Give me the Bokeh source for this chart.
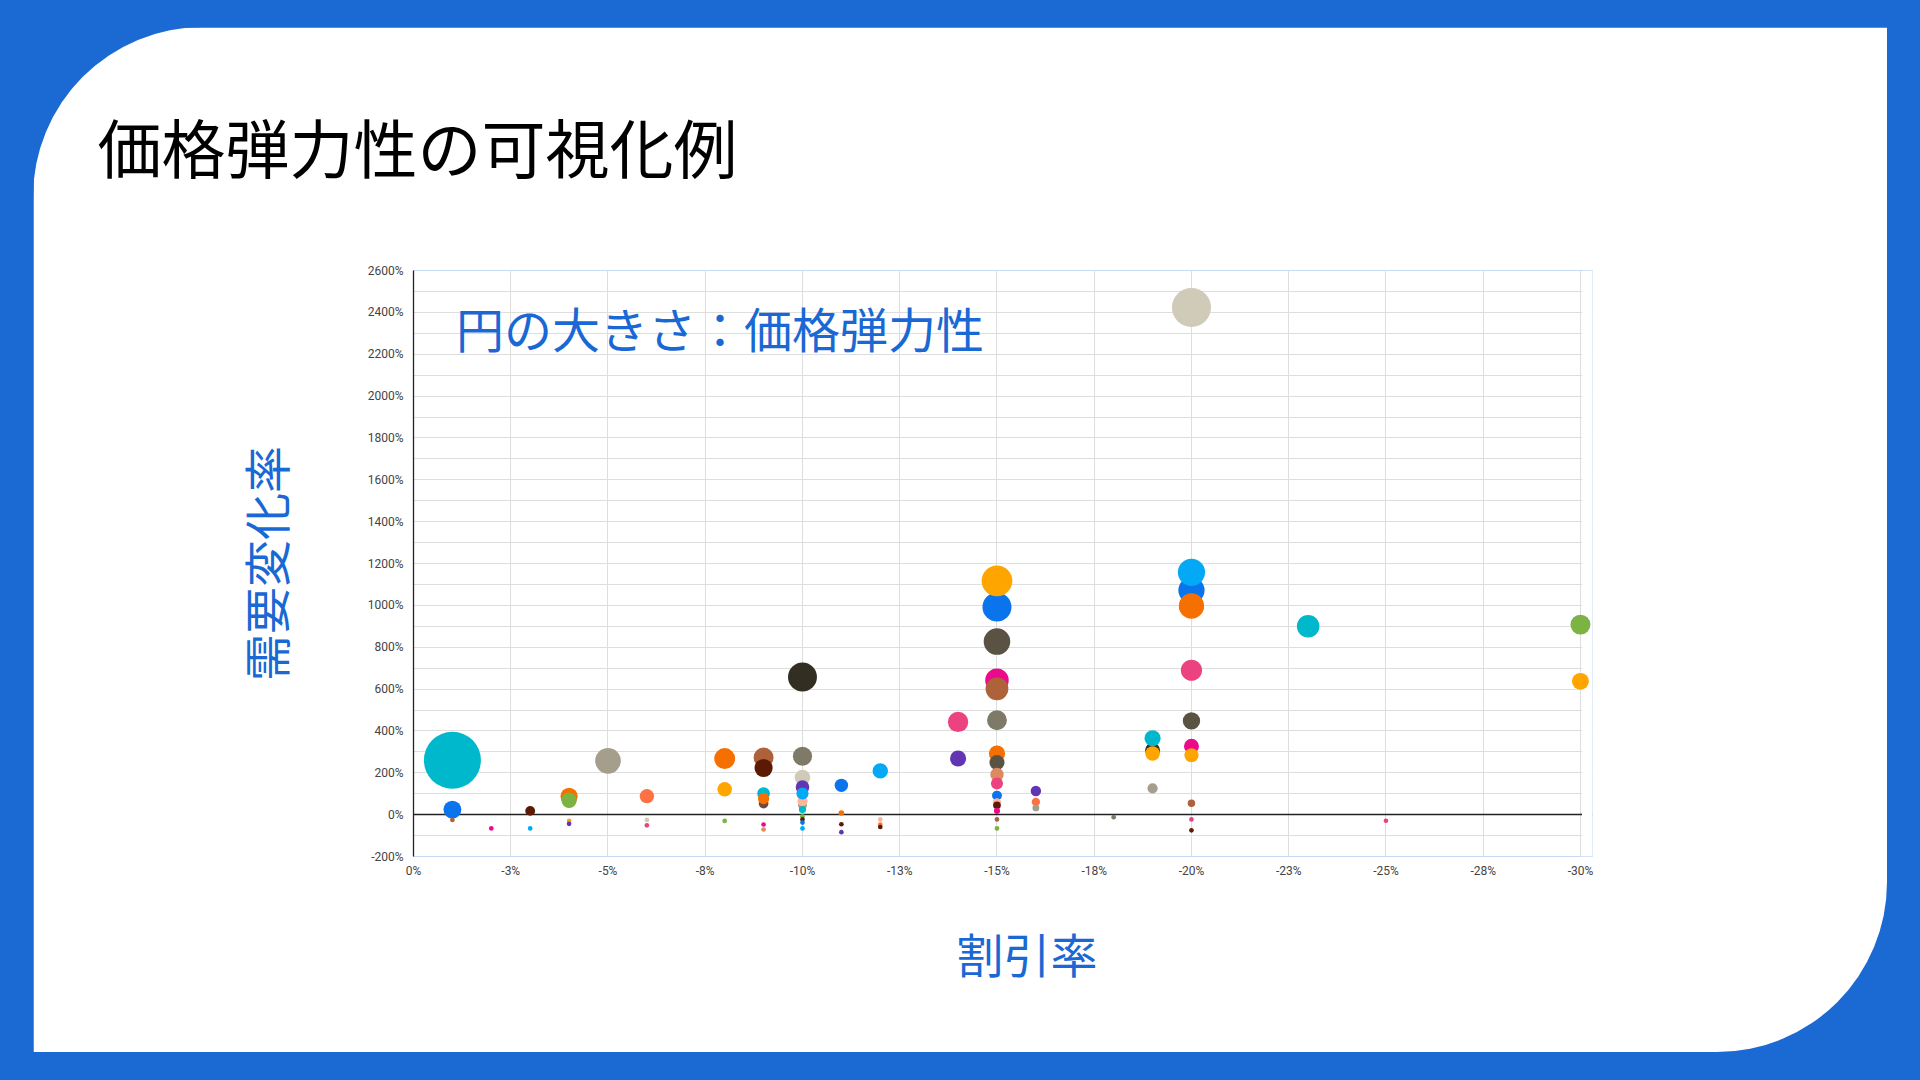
import math
from bokeh.plotting import figure
from bokeh.models import (ColumnDataSource, FixedTicker, PrintfTickFormatter, Label, Grid, Title,
                          Range1d, GlobalInlineStyleSheet, BoxAnnotation)
from bokeh.embed import file_html
from bokeh.resources import INLINE

# ---------------- data ----------------
CYAN = "#00B8CC"; BLUE = "#0A74EC"; LBLUE = "#03A9F4"; ORANGE = "#F57000"; AMBER = "#FFA500"
BROWN = "#AD6239"; DBROWN = "#5C1A04"; PINK = "#EC4280"; MAGENTA = "#EC0A8C"; PURPLE = "#6236B2"
GREEN = "#7CB342"; TAUPE = "#A59E8C"; BEIGE = "#D0CAB8"; GRAY = "#7F7A68"; DGRAY = "#5A5344"
DARK = "#332E22"; CORAL = "#FF7043"; SALMON = "#DE8A60"; PEACH = "#FFB494"; MUD = "#6E4B3A"

discount = [-1, -1, -1, -2, -3, -3, -4, -4, -4, -4, -5, -6, -6, -6, -8, -8, -8,
            -9, -9, -9, -9, -9, -9, -9,
            -10, -10, -10, -10, -10, -10, -10, -10, -10, -10, -10, -10,
            -11, -11, -11, -11, -12, -12, -12, -12, -14, -14,
            -15, -15, -15, -15, -15, -15, -15, -15, -15, -15, -15, -15, -15, -15, -15, -15,
            -16, -16, -16, -18, -19, -19, -19, -19,
            -20, -20, -20, -20, -20, -20, -20, -20, -20, -20, -20,
            -23, -25, -30, -30]
demand_change = [260, 24, -25, -66, 18, -66, 88, 69, -30, -44, 257, 88, -25, -51, 268, 121, -30,
                 273, 223, 101, 53, 77, -47, -71,
                 658, 279, 177, 132, 45, 64, 101, 24, -8, -23, -38, -66,
                 140, 8, -46, -84, 209, -23, -47, -59, 443, 268,
                 992, 1117, 827, 642, 601, 451, 292, 249, 192, 149, 91, 58, 45, 18, -23, -66,
                 113, 61, 32, -12, 308, 365, 292, 126,
                 2423, 1072, 1158, 997, 690, 448, 327, 284, 54, -23, -75,
                 900, -29, 908, 637]
colors = [CYAN, BLUE, BROWN, MAGENTA, DBROWN, LBLUE, ORANGE, GREEN, AMBER, PURPLE, TAUPE, CORAL, BEIGE, PINK, ORANGE, AMBER, GREEN,
          BROWN, DBROWN, CYAN, MUD, ORANGE, MAGENTA, SALMON,
          DARK, GRAY, BEIGE, PURPLE, TAUPE, PEACH, LBLUE, CYAN, GREEN, DBROWN, BLUE, LBLUE,
          BLUE, ORANGE, DBROWN, PURPLE, LBLUE, PEACH, CORAL, DBROWN, PINK, PURPLE,
          BLUE, AMBER, DGRAY, MAGENTA, BROWN, GRAY, ORANGE, DGRAY, SALMON, PINK, BLUE, PEACH, DBROWN, MAGENTA, BROWN, GREEN,
          PURPLE, CORAL, TAUPE, GRAY, DARK, CYAN, AMBER, TAUPE,
          BEIGE, BLUE, LBLUE, ORANGE, PINK, DGRAY, MAGENTA, AMBER, BROWN, PINK, DBROWN,
          CYAN, PINK, GREEN, AMBER]

x_ticks = [0, -2.5, -5, -7.5, -10, -12.5, -15, -17.5, -20, -22.5, -25, -27.5, -30]
x_tick_labels = ["0%", "-3%", "-5%", "-8%", "-10%", "-13%", "-15%", "-18%", "-20%",
                 "-23%", "-25%", "-28%", "-30%"]
y_ticks = list(range(-200, 2601, 200))
y_minor_ticks = list(range(-200, 2601, 100))

title_text = "価格弾力性の可視化例"
x_title = "割引率"
y_title = "需要変化率"
note_text = "円の大きさ：価格弾力性"

# ------------- bubble size scale (area proportional to elasticity) -------------
elasticity = [d / abs(x) for x, d in zip(discount, demand_change)]
e_max = max(elasticity)
S_MIN, S_MAX = 4.7, 57.0
sizes = [math.sqrt(S_MIN ** 2 + (S_MAX ** 2 - S_MIN ** 2) * max(e, 0) / e_max) for e in elasticity]

src = ColumnDataSource(dict(x=discount, y=demand_change, color=colors, size=sizes, e=elasticity))

BG_BLUE = "#1B6AD4"
TXT_BLUE = "#1A68D3"
JP = "Noto Sans CJK JP"
X_MIN, X_MAX = x_ticks[0], x_ticks[-1]
X_PAD = 0.31   # extra room right of -30% so edge bubbles are not clipped

p = figure(width=1854, height=1025, output_backend="svg", toolbar_location=None,
           x_range=Range1d(X_MIN, X_MAX - X_PAD), y_range=Range1d(y_ticks[0], y_ticks[-1]),
           min_border_left=380, min_border_right=295, min_border_top=243, min_border_bottom=196,
           background_fill_color="white", border_fill_color="white", outline_line_color=None,
           margin=(27, 0, 0, 33),
           styles={"border-radius": "170px 0px 170px 0px", "overflow": "hidden"},
           stylesheets=[GlobalInlineStyleSheet(css="html, body { background-color: %s; }" % BG_BLUE)])

# title (with an empty spacer panel between it and the plot frame)
p.add_layout(Title(text=" ", text_font=JP, text_font_size="20px", standoff=49), "above")
p.title.text = title_text
p.title.text_font = JP
p.title.text_font_size = "64px"
p.title.text_font_style = "normal"
p.title.text_color = "#000000"
p.title.align = "left"
p.title.offset = -316
p.title.standoff = 0

# axes
p.xaxis.ticker = FixedTicker(ticks=x_ticks)
p.xaxis.major_label_overrides = {float(t): lab for t, lab in zip(x_ticks, x_tick_labels)}
p.yaxis.ticker = FixedTicker(ticks=y_ticks, minor_ticks=y_minor_ticks)
p.yaxis.formatter = PrintfTickFormatter(format="%d%%")
for ax in (p.xaxis[0], p.yaxis[0]):
    ax.major_label_text_font = "Roboto"
    ax.major_label_text_font_size = "12px"
    ax.major_label_text_color = "#444444"
    ax.major_tick_line_color = None
    ax.minor_tick_line_color = None
    ax.major_tick_out = 0
    ax.major_tick_in = 0
    ax.minor_tick_out = 0
    ax.axis_label_text_font = JP
    ax.axis_label_text_font_size = "47px"
    ax.axis_label_text_font_style = "normal"
    ax.axis_label_text_color = TXT_BLUE
p.xaxis.axis_line_color = None
p.xaxis.major_label_standoff = 7
p.yaxis.axis_line_color = "#222222"
p.yaxis.axis_line_width = 1.3
p.yaxis.major_label_standoff = 10
p.yaxis.axis_label = y_title
p.yaxis.axis_label_standoff = 66

# x-axis title (placed below the axis, shifted like the reference)
p.add_layout(Title(text=x_title, align="left", offset=543, vertical_align="top", standoff=74,
                   text_font=JP, text_font_size="47px", text_font_style="normal",
                   text_color=TXT_BLUE), "below")

# grid
p.xgrid.ticker = FixedTicker(ticks=x_ticks)
p.xgrid.grid_line_color = "#DEDEDE"
p.ygrid.ticker = FixedTicker(ticks=y_ticks, minor_ticks=y_minor_ticks)
p.ygrid.grid_line_color = "#DEDEDE"
p.ygrid.minor_grid_line_color = "#DEDEDE"

# zero baseline as a grid line
p.add_layout(Grid(dimension=1, ticker=FixedTicker(ticks=[0]), grid_line_color="#222222",
                  grid_line_width=1.3))
# blank the padding strip beyond -30% (under the bubbles)
p.add_layout(BoxAnnotation(left=X_MAX - 0.04, right=X_MAX - X_PAD - 1, fill_color="white",
                           fill_alpha=1.0, line_color=None, level="underlay"))

p.scatter("x", "y", size="size", fill_color="color", line_color=None, fill_alpha=1.0, source=src)

p.add_layout(Label(x=-1.09, y=2329, text=note_text, text_font=JP, text_font_size="48px",
                   text_color=TXT_BLUE, text_baseline="middle", text_align="left"))

open("out.html", "w").write(file_html(p, INLINE))
